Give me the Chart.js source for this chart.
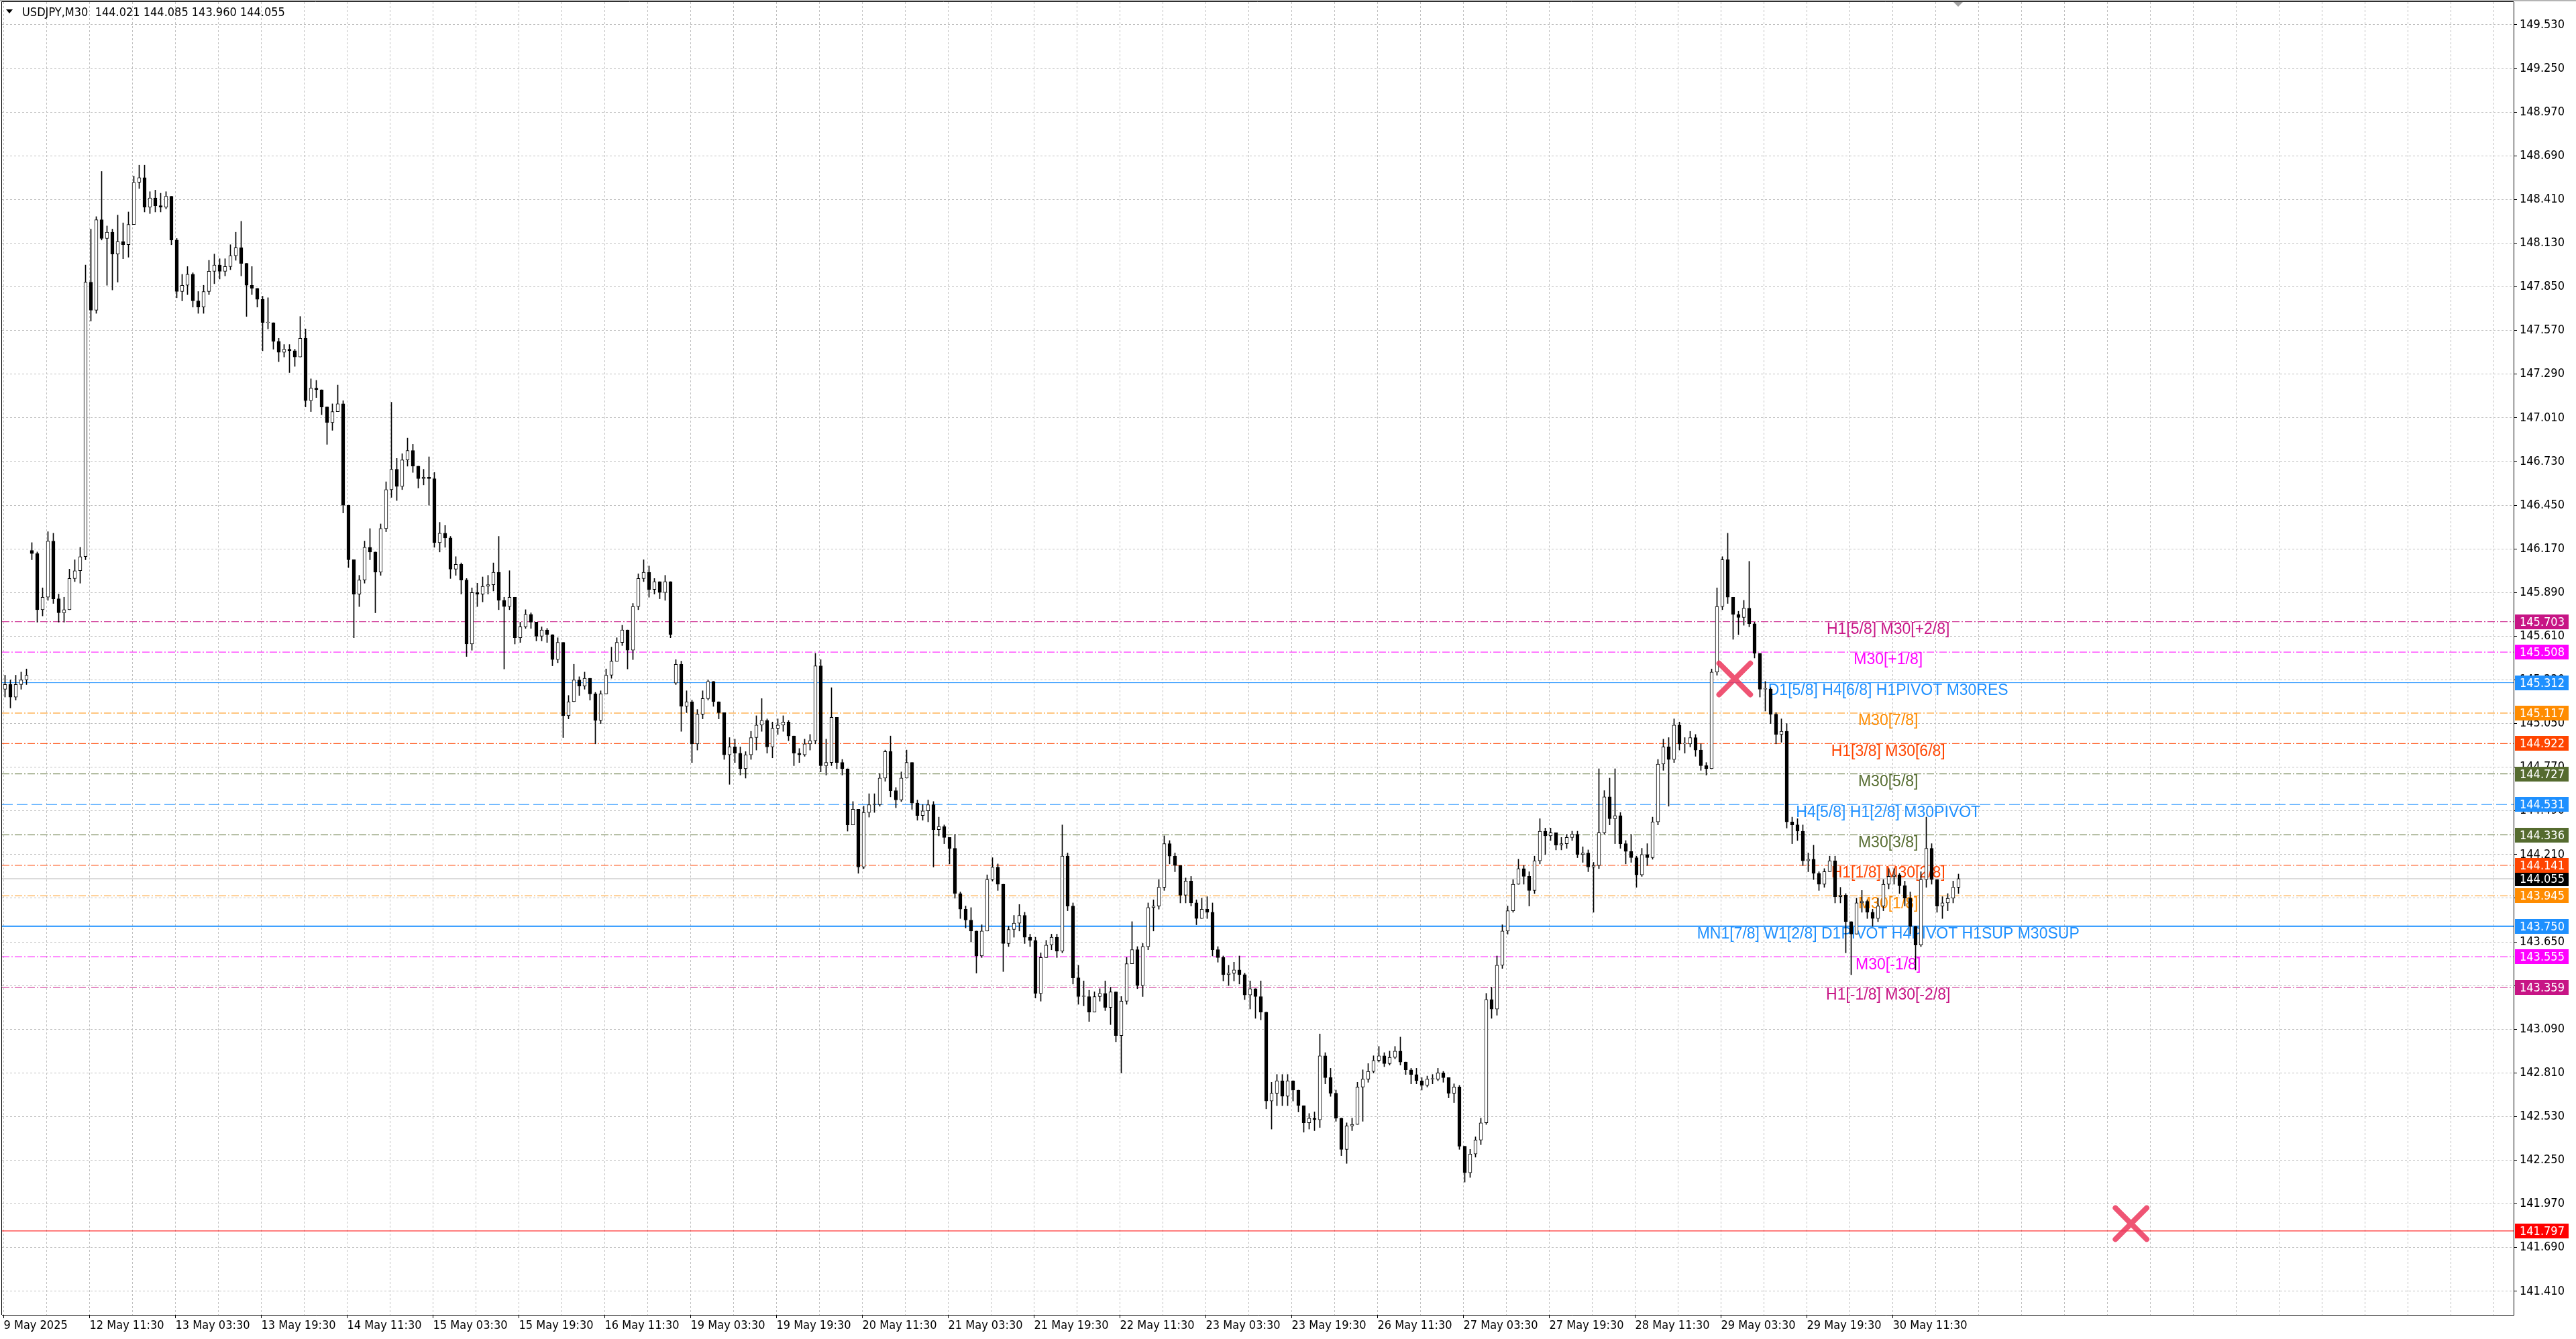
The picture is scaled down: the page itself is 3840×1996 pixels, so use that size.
<!DOCTYPE html>
<html>
<head>
<meta charset="utf-8">
<title>USDJPY,M30</title>
<script src="https://cdn.jsdelivr.net/npm/chart.js@4.4.1/dist/chart.umd.min.js"></script>
<style>
  html, body { margin: 0; padding: 0; background: #fff; }
  canvas { display: block; }
</style>
</head>
<body>
<canvas id="priceChart" width="3840" height="1996"></canvas>
<script>
// header values of the last bar
var symbolTitle = "USDJPY,M30";
var lastBarOHLC = [144.021, 144.085, 143.960, 144.055];

// hourly candles, open = previous close except after weekend gaps
var firstOpen = 145.27;
var gapOpens = [[5, 146.16], [125, 145.31]];

var closes = [
  145.30, 145.22, 145.30, 145.33, 145.36, 146.14, 145.78, 145.86, 146.22, 145.85,
  145.76, 145.78, 145.98, 146.03, 146.12, 147.88, 147.70, 148.28, 148.16, 148.20,
  148.06, 148.14, 148.12, 148.25, 148.52, 148.55, 148.36, 148.42, 148.37, 148.36,
  148.43, 148.15, 147.82, 147.86, 147.93, 147.76, 147.72, 147.82, 147.95, 147.99,
  147.95, 147.98, 148.05, 148.10, 148.00, 147.86, 147.84, 147.77, 147.62, 147.62,
  147.50, 147.43, 147.45, 147.44, 147.40, 147.52, 147.12, 147.20, 147.19, 147.08,
  146.98, 147.05, 147.10, 146.45, 146.10, 145.88, 145.97, 146.18, 146.15, 146.02,
  146.30, 146.55, 146.68, 146.57, 146.74, 146.80, 146.70, 146.62, 146.63, 146.62,
  146.21, 146.27, 146.24, 146.04, 146.07, 145.97, 145.56, 145.89, 145.88, 145.93,
  145.94, 146.02, 145.84, 145.80, 145.86, 145.60, 145.67, 145.75, 145.70, 145.61,
  145.65, 145.62, 145.46, 145.57, 145.10, 145.19, 145.33, 145.29, 145.34, 145.24,
  145.07, 145.24, 145.36, 145.45, 145.57, 145.65, 145.52, 145.80, 145.98, 146.02,
  145.91, 145.96, 145.89, 145.96, 145.62, 145.43, 145.16, 145.19, 144.92, 145.11,
  145.21, 145.32, 145.19, 145.12, 144.85, 144.90, 144.86, 144.76, 144.85, 144.96,
  145.04, 145.07, 144.90, 145.02, 145.04, 145.06, 144.97, 144.86, 144.85, 144.92,
  144.94, 145.42, 144.78, 144.80, 145.09, 144.80, 144.76, 144.40, 144.50, 144.13,
  144.48, 144.53, 144.53, 144.70, 144.87, 144.62, 144.56, 144.70, 144.80, 144.54,
  144.46, 144.49, 144.53, 144.37, 144.39, 144.32, 144.25, 143.96, 143.86, 143.79,
  143.72, 143.56, 143.72, 144.05, 144.13, 144.02, 143.64, 143.73, 143.77, 143.82,
  143.68, 143.66, 143.32, 143.55, 143.63, 143.68, 143.59, 144.20, 143.88, 143.42,
  143.30, 143.30, 143.20, 143.30, 143.32, 143.23, 143.33, 143.05, 143.27, 143.51,
  143.60, 143.37, 143.62, 143.87, 143.88, 144.00, 144.28, 144.20, 144.14, 143.95,
  144.04, 143.90, 143.80, 143.86, 143.84, 143.60, 143.55, 143.44, 143.45, 143.47,
  143.44, 143.31, 143.35, 143.30, 143.20, 142.63, 142.68, 142.76, 142.66, 142.76,
  142.70, 142.60, 142.49, 142.52, 142.51, 142.92, 142.78, 142.68, 142.52, 142.32,
  142.47, 142.48, 142.72, 142.77, 142.82, 142.89, 142.92, 142.87, 142.91, 142.95,
  142.88, 142.83, 142.80, 142.76, 142.73, 142.77, 142.77, 142.81, 142.78, 142.68,
  142.72, 142.34, 142.17, 142.29, 142.38, 142.49, 143.28, 143.22, 143.50, 143.72,
  143.85, 144.02, 144.12, 144.07, 143.98, 144.17, 144.36, 144.33, 144.35, 144.27,
  144.28, 144.32, 144.34, 144.21, 144.22, 144.13, 144.14, 144.35, 144.58, 144.44,
  144.46, 144.28, 144.23, 144.19, 144.08, 144.21, 144.19, 144.42, 144.79, 144.90,
  144.82, 145.04, 144.92, 144.92, 144.96, 144.88, 144.78, 144.76, 145.38, 145.80,
  146.10, 145.86, 145.75, 145.73, 145.79, 145.69, 145.50, 145.27, 145.27, 145.11,
  144.98, 145.00, 144.42, 144.40, 144.36, 144.17, 144.18, 144.09, 144.02, 144.10,
  144.17, 143.94, 143.95, 143.78, 143.70, 143.90, 143.91, 143.84, 143.80, 143.88,
  144.02, 144.07, 144.08, 144.01, 143.93, 143.75, 143.63, 144.05, 144.25, 144.05,
  143.88, 143.90, 143.93, 144.00, 144.055
];

var highs = [
  145.36, 145.33, 145.36, 145.38, 145.40, 146.21, 146.15, 145.92, 146.28, 146.27,
  145.88, 145.86, 146.04, 146.10, 146.18, 147.99, 148.22, 148.30, 148.59, 148.24,
  148.22, 148.31, 148.26, 148.33, 148.56, 148.63, 148.63, 148.46, 148.47, 148.45,
  148.46, 148.43, 148.16, 147.93, 147.98, 147.94, 147.82, 147.86, 148.02, 148.06,
  148.03, 148.03, 148.12, 148.20, 148.27, 147.92, 147.98, 147.84, 147.79, 147.78,
  147.62, 147.52, 147.48, 147.48, 147.45, 147.66, 147.58, 147.26, 147.25, 147.18,
  147.08, 147.10, 147.22, 147.12, 146.45, 146.10, 146.00, 146.22, 146.30, 146.15,
  146.33, 146.60, 147.11, 146.75, 146.78, 146.88, 146.84, 146.68, 146.68, 146.76,
  146.66, 146.34, 146.32, 146.25, 146.12, 146.08, 145.98, 145.92, 145.95, 145.99,
  146.00, 146.08, 146.25, 145.86, 146.03, 145.86, 145.70, 145.78, 145.76, 145.70,
  145.67, 145.66, 145.62, 145.60, 145.57, 145.23, 145.43, 145.35, 145.38, 145.34,
  145.25, 145.26, 145.40, 145.54, 145.60, 145.68, 145.65, 145.82, 146.01, 146.10,
  146.06, 145.98, 145.96, 146.00, 145.96, 145.46, 145.45, 145.26, 145.20, 145.14,
  145.26, 145.33, 145.32, 145.19, 145.12, 144.96, 144.95, 144.90, 144.87, 145.00,
  145.10, 145.21, 145.08, 145.06, 145.08, 145.10, 145.07, 144.96, 144.89, 144.95,
  144.98, 145.50, 145.46, 144.95, 145.28, 145.00, 144.82, 144.76, 144.55, 144.50,
  144.52, 144.60, 144.60, 144.73, 144.88, 144.97, 144.64, 144.74, 144.88, 144.80,
  144.56, 144.53, 144.56, 144.55, 144.45, 144.40, 144.32, 144.34, 143.97, 143.88,
  143.87, 143.72, 143.76, 144.08, 144.19, 144.15, 144.02, 143.75, 143.82, 143.89,
  143.84, 143.70, 143.68, 143.58, 143.66, 143.70, 143.70, 144.40, 144.22, 143.90,
  143.50, 143.40, 143.34, 143.33, 143.35, 143.40, 143.36, 143.22, 143.30, 143.55,
  143.78, 143.62, 143.64, 143.90, 143.92, 144.05, 144.33, 144.30, 144.22, 144.13,
  144.06, 144.07, 143.92, 143.93, 143.94, 143.90, 143.62, 143.56, 143.50, 143.52,
  143.56, 143.45, 143.40, 143.35, 143.40, 143.16, 142.75, 142.80, 142.80, 142.80,
  142.76, 142.68, 142.60, 142.55, 142.56, 143.06, 142.94, 142.84, 142.70, 142.52,
  142.49, 142.52, 142.75, 142.83, 142.87, 142.92, 142.98, 142.94, 142.95, 142.98,
  143.04, 142.88, 142.84, 142.84, 142.78, 142.79, 142.80, 142.84, 142.82, 142.78,
  142.74, 142.73, 142.34, 142.32, 142.40, 142.52, 143.32, 143.36, 143.56, 143.76,
  143.88, 144.05, 144.18, 144.14, 144.10, 144.20, 144.44, 144.38, 144.38, 144.35,
  144.32, 144.34, 144.36, 144.36, 144.26, 144.24, 144.16, 144.76, 144.62, 144.70,
  144.76, 144.48, 144.30, 144.34, 144.20, 144.25, 144.28, 144.45, 144.82, 144.95,
  144.96, 145.08, 145.06, 144.96, 145.00, 144.98, 144.92, 144.80, 145.40, 145.92,
  146.12, 146.27, 145.82, 145.77, 145.84, 146.09, 145.70, 145.50, 145.32, 145.28,
  145.12, 145.08, 145.05, 144.45, 144.44, 144.40, 144.22, 144.27, 144.10, 144.12,
  144.20, 144.20, 144.00, 143.96, 143.78, 143.93, 143.98, 143.92, 143.86, 143.93,
  144.05, 144.12, 144.12, 144.09, 144.04, 143.97, 143.75, 144.10, 144.45, 144.28,
  144.05, 143.94, 143.96, 144.04, 144.085
];

var lows = [
  145.22, 145.15, 145.20, 145.27, 145.30, 146.10, 145.70, 145.74, 145.84, 145.82,
  145.70, 145.70, 145.78, 145.96, 145.95, 146.10, 147.63, 147.68, 148.15, 147.86,
  147.83, 147.88, 148.03, 148.04, 148.25, 148.48, 148.33, 148.32, 148.33, 148.33,
  148.35, 148.12, 147.78, 147.76, 147.80, 147.72, 147.68, 147.68, 147.80, 147.87,
  147.90, 147.92, 147.96, 148.02, 147.92, 147.66, 147.80, 147.72, 147.44, 147.58,
  147.45, 147.37, 147.40, 147.30, 147.34, 147.40, 147.08, 147.05, 147.14, 147.03,
  146.84, 146.93, 147.05, 146.40, 146.05, 145.60, 145.80, 145.95, 146.10, 145.76,
  146.00, 146.28, 146.50, 146.48, 146.55, 146.70, 146.66, 146.56, 146.58, 146.45,
  146.18, 146.15, 146.18, 145.98, 146.00, 145.88, 145.48, 145.52, 145.80, 145.83,
  145.88, 145.90, 145.78, 145.40, 145.78, 145.56, 145.57, 145.66, 145.66, 145.58,
  145.58, 145.57, 145.42, 145.44, 144.96, 145.08, 145.22, 145.23, 145.27, 145.20,
  144.92, 145.05, 145.27, 145.34, 145.48, 145.55, 145.40, 145.46, 145.78, 145.96,
  145.86, 145.88, 145.85, 145.84, 145.60, 145.30, 145.00, 145.12, 144.80, 144.88,
  145.08, 145.20, 145.16, 145.08, 144.82, 144.66, 144.80, 144.72, 144.70, 144.82,
  144.88, 145.00, 144.86, 144.83, 144.98, 145.00, 144.94, 144.78, 144.80, 144.84,
  144.88, 144.92, 144.74, 144.72, 144.78, 144.76, 144.72, 144.36, 144.40, 144.09,
  144.12, 144.45, 144.48, 144.52, 144.68, 144.58, 144.51, 144.55, 144.70, 144.50,
  144.43, 144.43, 144.42, 144.13, 144.33, 144.28, 144.15, 143.93, 143.80, 143.74,
  143.65, 143.45, 143.55, 143.76, 144.04, 143.98, 143.46, 143.62, 143.68, 143.72,
  143.64, 143.62, 143.29, 143.27, 143.55, 143.60, 143.55, 143.58, 143.85, 143.38,
  143.25, 143.24, 143.14, 143.20, 143.27, 143.21, 143.12, 143.01, 142.81, 143.25,
  143.52, 143.35, 143.30, 143.60, 143.72, 143.86, 143.98, 144.15, 144.10, 143.90,
  143.90, 143.88, 143.76, 143.80, 143.80, 143.56, 143.52, 143.40, 143.37, 143.40,
  143.38, 143.28, 143.22, 143.16, 143.15, 142.58, 142.45, 142.60, 142.60, 142.60,
  142.63, 142.56, 142.43, 142.45, 142.44, 142.46, 142.74, 142.66, 142.50, 142.28,
  142.23, 142.44, 142.55, 142.50, 142.75, 142.81, 142.88, 142.85, 142.86, 142.90,
  142.86, 142.80, 142.74, 142.74, 142.70, 142.72, 142.74, 142.76, 142.75, 142.65,
  142.62, 142.32, 142.11, 142.14, 142.27, 142.35, 142.48, 143.16, 143.18, 143.48,
  143.70, 143.84, 144.02, 144.02, 143.88, 143.96, 144.15, 144.21, 144.30, 144.24,
  144.24, 144.25, 144.30, 144.19, 144.16, 144.10, 143.84, 144.12, 144.34, 144.40,
  144.28, 144.25, 144.15, 144.16, 144.00, 144.07, 144.14, 144.18, 144.40, 144.75,
  144.52, 144.80, 144.88, 144.86, 144.90, 144.84, 144.75, 144.72, 144.76, 145.36,
  145.78, 145.82, 145.59, 145.62, 145.68, 145.67, 145.47, 145.22, 145.13, 145.05,
  144.92, 144.93, 144.38, 144.28, 144.30, 144.14, 144.10, 144.05, 143.98, 144.00,
  144.10, 143.90, 143.90, 143.58, 143.44, 143.70, 143.84, 143.80, 143.75, 143.78,
  143.85, 143.99, 144.02, 143.96, 143.88, 143.70, 143.47, 143.62, 144.00, 144.02,
  143.84, 143.80, 143.85, 143.90, 143.96
];

// time axis: M30 bar numbers and their labels
var timeTickBars = [0, 32, 64, 96, 128, 160, 192, 224, 256, 288, 320, 352,
  384, 416, 448, 480, 512, 544, 576, 608, 640, 672, 704];
var timeTickLabels = ["9 May 2025", "12 May 11:30", "13 May 03:30", "13 May 19:30",
  "14 May 11:30", "15 May 03:30", "15 May 19:30", "16 May 11:30", "19 May 03:30",
  "19 May 19:30", "20 May 11:30", "21 May 03:30", "21 May 19:30", "22 May 11:30",
  "23 May 03:30", "23 May 19:30", "26 May 11:30", "27 May 03:30", "27 May 19:30",
  "28 May 11:30", "29 May 03:30", "29 May 19:30", "30 May 11:30"];

var priceTicks = [141.41, 141.69, 141.97, 142.25, 142.53, 142.81, 143.09, 143.37,
  143.65, 143.93, 144.21, 144.49, 144.77, 145.05, 145.33, 145.61, 145.89, 146.17,
  146.45, 146.73, 147.01, 147.29, 147.57, 147.85, 148.13, 148.41, 148.69, 148.97,
  149.25, 149.53];

// murrey / pivot levels
var levelPrices = [145.703, 145.508, 145.312, 145.117, 144.922, 144.727, 144.531,
  144.336, 144.141, 143.945, 143.750, 143.555, 143.359];
var levelNames = ["H1[5/8] M30[+2/8]", "M30[+1/8]", "D1[5/8] H4[6/8] H1PIVOT M30RES",
  "M30[7/8]", "H1[3/8] M30[6/8]", "M30[5/8]", "H4[5/8] H1[2/8] M30PIVOT", "M30[3/8]",
  "H1[1/8] M30[2/8]", "M30[1/8]", "MN1[7/8] W1[2/8] D1PIVOT H4PIVOT H1SUP M30SUP",
  "M30[-1/8]", "H1[-1/8] M30[-2/8]"];
var currentPrice = 144.055;
var targetPrice = 141.797;
var crossMarks = [[645.1, 145.336], [792.8, 141.844]];

// styles
var DASHDOT = [11, 3, 2, 3];
var levelColors = ["#C71585", "#FF00FF", "#1E90FF", "#FF8C00", "#FF4500", "#556B2F",
  "#1E90FF", "#556B2F", "#FF4500", "#FF8C00", "#1E90FF", "#FF00FF", "#C71585"];
var levelDash = [DASHDOT, DASHDOT, [], DASHDOT, DASHDOT, DASHDOT, [16, 6], DASHDOT,
  DASHDOT, DASHDOT, [], DASHDOT, DASHDOT];
var levelWidth = [1, 1, 1, 1, 1, 1, 1, 1, 1, 1, 2, 1, 1];

var X_MIN = -0.625, X_MAX = 935.375;
var Y_MIN = 141.259, Y_MAX = 149.676;
var LABEL_BAR = 702.3;
var AXIS_FAMILY = '"DejaVu Sans Condensed", "DejaVu Sans", sans-serif';

// labels hanging past the plot edge must not push the plot inwards
function noOverflowPadding(scale) {
  scale.paddingLeft = 0;
  scale.paddingRight = 0;
  scale.paddingTop = 0;
  scale.paddingBottom = 0;
}

document.addEventListener("DOMContentLoaded", function () {

  var candles = closes.map(function (c, j) {
    var o = j === 0 ? firstOpen : closes[j - 1];
    gapOpens.forEach(function (g) { if (g[0] === j) o = g[1]; });
    return {
      x: 2 * j + 0.5, o: o, c: c,
      h: Math.max(highs[j], o, c), l: Math.min(lows[j], o, c)
    };
  });

  var gridBars = [];
  for (var v = 0; v <= 928; v += 16) gridBars.push(v);

  var datasets = [];

  levelPrices.forEach(function (p, i) {
    datasets.push({
      type: "line",
      data: [{ x: X_MIN, y: p }, { x: X_MAX, y: p }],
      borderColor: levelColors[i],
      borderWidth: levelWidth[i],
      borderDash: levelDash[i],
      pointRadius: 0,
      order: 5,
    });
  });

  datasets.push({
    type: "line",
    data: [{ x: X_MIN, y: currentPrice }, { x: X_MAX, y: currentPrice }],
    borderColor: "#c0c0c0", borderWidth: 1, pointRadius: 0, order: 5,
  });
  datasets.push({
    type: "line",
    data: [{ x: X_MIN, y: targetPrice }, { x: X_MAX, y: targetPrice }],
    borderColor: "#ff0000", borderWidth: 1, pointRadius: 0, order: 5,
  });

  // wicks
  datasets.push({
    type: "bar",
    data: candles.map(function (k) { return { x: k.x, y: [k.l, k.h] }; }),
    backgroundColor: "#000",
    barThickness: 1,
    grouped: false,
    order: 2,
  });
  // bodies
  datasets.push({
    type: "bar",
    data: candles.map(function (k) { return { x: k.x, y: [k.o, k.c] }; }),
    backgroundColor: candles.map(function (k) { return k.c >= k.o ? "#fff" : "#000"; }),
    borderColor: "#000",
    borderWidth: 1,
    borderSkipped: false,
    barThickness: 5,
    minBarLength: 1,
    grouped: false,
    order: 1,
  });

  datasets.push({
    type: "scatter",
    data: crossMarks.map(function (m) { return { x: m[0], y: m[1] }; }),
    pointStyle: "crossRot",
    pointRadius: 33,
    borderWidth: 8,
    borderColor: "rgba(236, 54, 92, 0.85)",
    backgroundColor: "rgba(236, 54, 92, 0.85)",
    order: 0,
    clip: false,
  });

  var paperPlugin = {
    id: "paper",
    beforeDraw: function (chart) {
      var ctx = chart.ctx;
      ctx.save();
      ctx.fillStyle = "#fff";
      ctx.fillRect(0, 0, chart.width, chart.height);
      ctx.restore();
    },
  };

  var levelTextPlugin = {
    id: "levelText",
    beforeDatasetsDraw: function (chart) {
      var ctx = chart.ctx, xs = chart.scales.x, ys = chart.scales.y;
      var cx = xs.getPixelForValue(LABEL_BAR);
      ctx.save();
      ctx.font = '23px "Liberation Sans", Arial, sans-serif';
      ctx.textAlign = "center";
      ctx.textBaseline = "middle";
      levelPrices.forEach(function (p, i) {
        ctx.fillStyle = levelColors[i];
        ctx.fillText(levelNames[i], cx, ys.getPixelForValue(p) + 12);
      });
      ctx.restore();
    },
    beforeDatasetDraw: function (chart, args) {
      if (args.meta.type === "scatter") {
        chart.ctx.save();
        chart.ctx.lineCap = "round";
      }
    },
    afterDatasetDraw: function (chart, args) {
      if (args.meta.type === "scatter") chart.ctx.restore();
    },
  };

  var overlayPlugin = {
    id: "overlay",
    afterDraw: function (chart) {
      var ctx = chart.ctx, ys = chart.scales.y, area = chart.chartArea;
      ctx.save();

      // window edge + frame
      ctx.fillStyle = "#b4b4b4";
      ctx.fillRect(0, 0, chart.width, 2);
      ctx.strokeStyle = "#000";
      ctx.lineWidth = 1;
      ctx.beginPath();
      ctx.moveTo(2.5, 2.5); ctx.lineTo(2.5, area.bottom);
      ctx.moveTo(2.5, 2.5); ctx.lineTo(area.right, 2.5);
      ctx.stroke();

      // chart shift marker
      ctx.fillStyle = "#a0a0a0";
      ctx.beginPath();
      ctx.moveTo(2912, 3); ctx.lineTo(2926, 3); ctx.lineTo(2919, 10);
      ctx.closePath(); ctx.fill();

      // price boxes on the axis
      ctx.font = "18px " + AXIS_FAMILY;
      ctx.textBaseline = "middle";
      ctx.textAlign = "left";
      var boxes = [[currentPrice, "#000"]];
      levelPrices.forEach(function (p, i) { boxes.push([p, levelColors[i]]); });
      boxes.push([targetPrice, "#ff0000"]);
      boxes.forEach(function (b) {
        var y = Math.round(ys.getPixelForValue(b[0]));
        ctx.fillStyle = b[1];
        ctx.fillRect(3749, y - 11, 80, 22);
        ctx.fillStyle = "#fff";
        ctx.fillText(b[0].toFixed(3), 3756, y + 1);
      });

      // header
      ctx.fillStyle = "#000";
      ctx.beginPath();
      ctx.moveTo(9, 14); ctx.lineTo(19, 14); ctx.lineTo(14, 20);
      ctx.closePath(); ctx.fill();
      ctx.fillText(symbolTitle + "  " + lastBarOHLC.map(function (n) { return n.toFixed(3); }).join(" "), 33, 19);

      ctx.restore();
    },
  };

  var chartCanvas = document.getElementById("priceChart").getContext("2d");

  var priceChart = new Chart(chartCanvas, {
    type: "line",
    data: { datasets: datasets },
    plugins: [paperPlugin, levelTextPlugin, overlayPlugin],
    options: {
      responsive: false,
      animation: false,
      devicePixelRatio: 1,
      events: [],
      layout: { autoPadding: false, padding: { left: 3, top: 3, right: 0, bottom: 0 } },
      plugins: {
        legend: { display: false },
        tooltip: { enabled: false },
      },
      scales: {
        x: {
          type: "linear",
          min: X_MIN,
          max: X_MAX,
          offset: false,
          afterBuildTicks: function (scale) {
            scale.ticks = gridBars.map(function (b) { return { value: b }; });
          },
          afterFit: function (scale) {
            scale.height = 36;
            noOverflowPadding(scale);
          },
          ticks: {
            autoSkip: false,
            maxRotation: 0,
            minRotation: 0,
            align: "start",
            padding: 1,
            color: "#000",
            font: { family: AXIS_FAMILY, size: 18 },
            callback: function (value) {
              var i = timeTickBars.indexOf(value);
              return i >= 0 ? timeTickLabels[i] : "";
            },
          },
          grid: {
            color: "#c0c0c0",
            offset: false,
            tickLength: 5,
            tickColor: function (c) {
              return c.tick && timeTickBars.indexOf(c.tick.value) >= 0 ? "#000" : "rgba(0,0,0,0)";
            },
          },
          border: { display: true, color: "#000", width: 1, dash: [3, 3] },
        },
        y: {
          type: "linear",
          position: "right",
          min: Y_MIN,
          max: Y_MAX,
          beginAtZero: false,
          afterBuildTicks: function (scale) {
            scale.ticks = priceTicks.map(function (p) { return { value: p }; });
          },
          afterFit: function (scale) {
            scale.width = 93;
            noOverflowPadding(scale);
          },
          ticks: {
            autoSkip: false,
            padding: 4,
            color: "#000",
            font: { family: AXIS_FAMILY, size: 18 },
            callback: function (value) { return value.toFixed(3); },
          },
          grid: {
            color: "#c0c0c0",
            tickLength: 5,
            tickColor: "#000",
          },
          border: { display: true, color: "#000", width: 1, dash: [3, 3] },
        },
      },
    },
  });
});
</script>
</body>
</html>
